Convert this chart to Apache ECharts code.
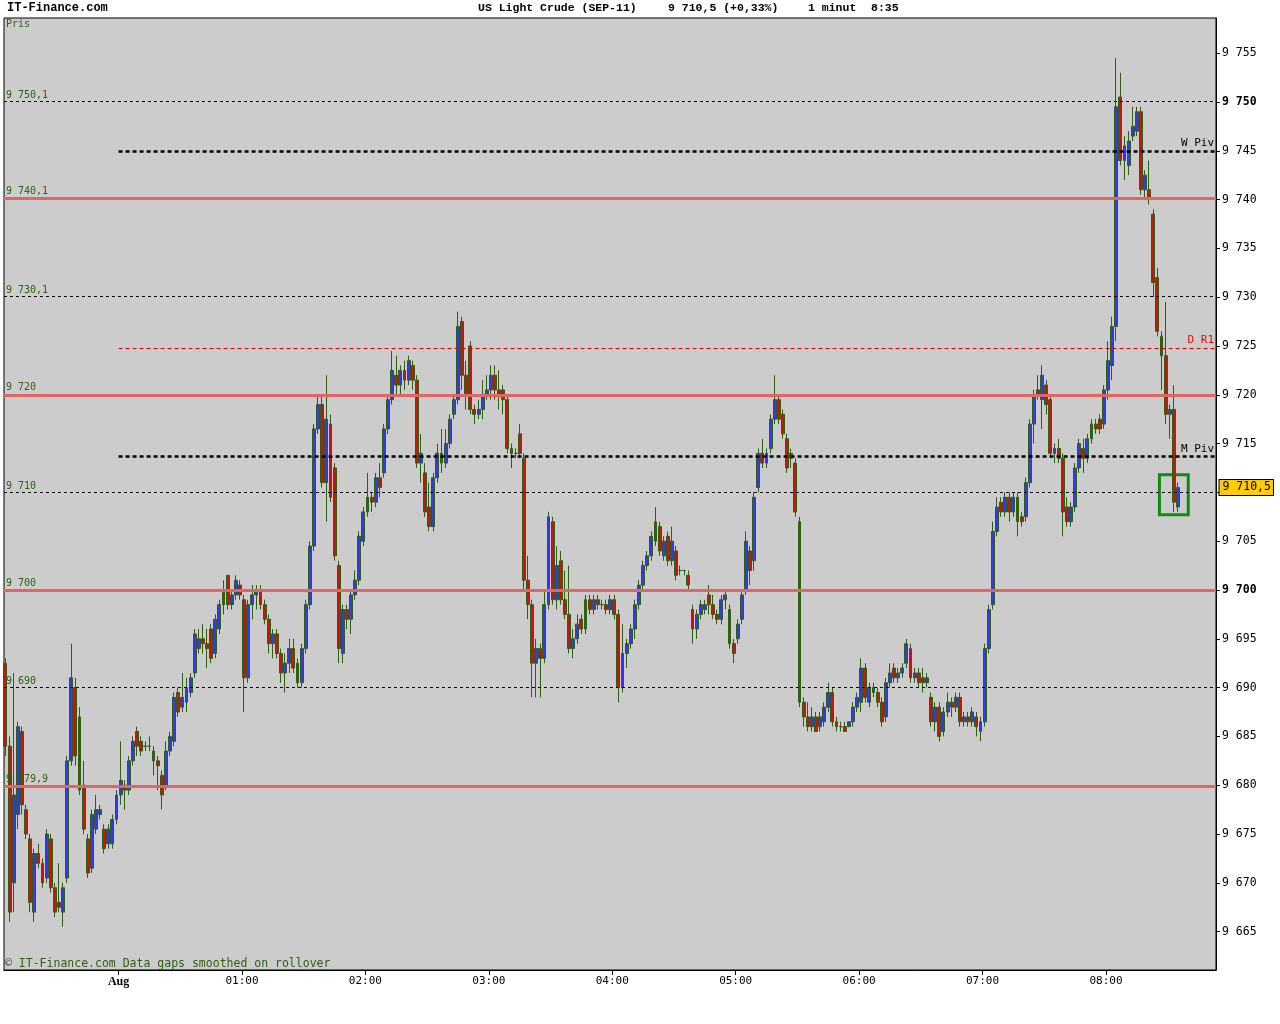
<!DOCTYPE html>
<html>
<head>
<meta charset="utf-8">
<title>US Light Crude (SEP-11)</title>
<script src="https://cdn.jsdelivr.net/npm/echarts@6/dist/echarts.min.js"></script>
<style>
  html, body { margin: 0; padding: 0; background: #ffffff; }
  #chart { width: 1280px; height: 1024px; }
</style>
</head>
<body>
<div id="chart"></div>
<script>
// bar times in minutes from 00:00 Aug (negative = previous evening), 2 minute steps
const firstBarMinute = -55;
const barStep = 2;

const opens = [
  9692.5, 9684, 9670, 9677, 9685.5, 9677.5, 9674.5, 9667, 9673, 9672,
  9670.5, 9674.5, 9669.5, 9668, 9667, 9670.5, 9682.5, 9690, 9687, 9680,
  9674.5, 9671.5, 9675.5, 9677, 9675.5, 9674, 9674, 9676.5, 9679, 9680,
  9679.5, 9682.5, 9685.5, 9684.5, 9684, 9684, 9683.5, 9682.5, 9681, 9680,
  9683.5, 9684.5, 9689.5, 9688, 9688.5, 9689.5, 9691.5, 9694, 9695, 9694.5,
  9696, 9693.5, 9696, 9698.5, 9701.5, 9698.5, 9699.5, 9700.5, 9699, 9691,
  9698.5, 9699.5, 9700, 9698.5, 9697, 9694.5, 9695.5, 9693.5, 9691.5, 9692.5,
  9694, 9692.5, 9690.5, 9694, 9698.5, 9704.5, 9716.5, 9719, 9711, 9717,
  9712.5, 9702.5, 9693.5, 9698, 9697, 9699.5, 9701, 9705, 9708, 9709.5,
  9709, 9711.5, 9712, 9716.5, 9719.5, 9722, 9721, 9722.5, 9721.5, 9723,
  9721.5, 9713, 9712, 9708.5, 9706.5, 9711.5, 9714, 9713, 9715, 9718,
  9719.5, 9727.5, 9722, 9725, 9718.5, 9718, 9718.5, 9720, 9720.5, 9722,
  9720.5, 9720.5, 9719.5, 9714.5, 9714, 9716, 9713.5, 9701, 9698.5, 9692.5,
  9694, 9693, 9698.5, 9707, 9699, 9703, 9699, 9697.5, 9694, 9695,
  9697, 9696, 9699, 9698, 9699, 9698.5, 9698.5, 9698, 9699, 9697.5,
  9690, 9693.5, 9694.5, 9696, 9698.5, 9700.5, 9702.5, 9703.5, 9705, 9706.5,
  9703.5, 9705.5, 9703, 9704, 9702, 9702, 9701.5, 9698, 9696, 9697.5,
  9698, 9699.5, 9698.5, 9697.5, 9697, 9699, 9698, 9694.5, 9695, 9697,
  9700, 9704, 9703, 9710.5, 9714, 9713, 9714.5, 9717.5, 9719.5, 9718,
  9715.5, 9714, 9713, 9707, 9688.5, 9687, 9686, 9687, 9686, 9686.5,
  9688, 9689.5, 9686.5, 9686, 9686, 9686, 9686.5, 9688, 9688.5, 9692,
  9688.5, 9690, 9689.5, 9688.5, 9687, 9690.5, 9692, 9691, 9691.5, 9692.5,
  9694, 9691, 9691.5, 9691, 9690.5, 9689, 9686.5, 9688, 9685.5, 9687.5,
  9688.5, 9688, 9689, 9686.5, 9687, 9686.5, 9687, 9685.5, 9686.5, 9694,
  9698.5, 9706, 9709, 9708, 9709.5, 9708, 9709.5, 9707.5, 9707.5, 9711,
  9717, 9720.5, 9719.5, 9721, 9719.5, 9714, 9714.5, 9713.5, 9708.5, 9707,
  9708.5, 9712.5, 9714.5, 9713.5, 9715.5, 9717, 9717.5, 9717, 9720.5, 9723,
  9727, 9750.5, 9744, 9743.5, 9746.5, 9747, 9749, 9741, 9741, 9738.5,
  9732, 9726, 9724, 9718, 9718.5, 9708.5
];
const closes = [
  9684, 9667, 9679, 9686, 9678, 9675, 9668, 9673, 9672, 9670,
  9675, 9669.5, 9667, 9667.5, 9669.5, 9682.5, 9691, 9683, 9679.5, 9675.5,
  9671, 9677, 9677.5, 9677.5, 9673.5, 9675.5, 9676.5, 9679, 9680.5, 9679.5,
  9682.5, 9684.5, 9684, 9683.5, 9684, 9684, 9682.5, 9682, 9679, 9683.5,
  9685, 9689, 9687.5, 9689, 9690, 9691, 9695.5, 9695, 9694.5, 9694,
  9693, 9697, 9698.5, 9700, 9698.5, 9699.5, 9701, 9699.5, 9691, 9698.5,
  9699.5, 9700, 9698.5, 9697, 9694.5, 9695.5, 9693.5, 9691.5, 9692.5, 9694,
  9692, 9690.5, 9694, 9698.5, 9704.5, 9716.5, 9719, 9711, 9717.5, 9709.5,
  9703.5, 9694, 9698, 9697, 9699.5, 9701, 9705.5, 9708, 9709.5, 9709,
  9711.5, 9710.5, 9716.5, 9719.5, 9722.5, 9721, 9722.5, 9721.5, 9723.5, 9721.5,
  9713, 9714, 9708, 9706.5, 9711.5, 9714, 9713, 9715, 9717.5, 9719.5,
  9727, 9722, 9720, 9718.5, 9718, 9718.5, 9720, 9720.5, 9722, 9720.5,
  9720, 9719.5, 9714.5, 9714, 9714, 9714, 9701, 9698.5, 9692.5, 9694,
  9693, 9698.5, 9707.5, 9699, 9702.5, 9699, 9697.5, 9694, 9695, 9696.5,
  9696, 9699, 9698, 9699, 9698.5, 9698.5, 9698, 9699, 9697.5, 9690,
  9693.5, 9694.5, 9696, 9698.5, 9700.5, 9702.5, 9703.5, 9705.5, 9707, 9704,
  9705, 9703, 9705, 9701.5, 9702, 9702, 9700.5, 9696, 9697.5, 9698.5,
  9698.5, 9698.5, 9697.5, 9697, 9699, 9699.5, 9694.5, 9693.5, 9696.5, 9699.5,
  9705, 9702, 9709.5, 9714, 9713, 9714, 9717.5, 9719.5, 9717.5, 9716,
  9712.5, 9713.5, 9708, 9688.5, 9687, 9686, 9687, 9685.5, 9687, 9688,
  9689.5, 9686.5, 9686, 9686, 9685.5, 9686.5, 9688, 9689, 9692, 9689,
  9690, 9689.5, 9688.5, 9686.5, 9690.5, 9691.5, 9691, 9691.5, 9692, 9694.5,
  9691, 9691.5, 9690.5, 9690.5, 9691, 9686.5, 9688, 9685, 9687.5, 9688.5,
  9688, 9689, 9686.5, 9687, 9686.5, 9687.5, 9686, 9686.5, 9694, 9698,
  9706, 9708.5, 9708, 9709.5, 9708, 9709.5, 9707, 9707, 9711, 9717,
  9720, 9720, 9722, 9719, 9714, 9714.5, 9713.5, 9708, 9707, 9708.5,
  9712.5, 9715, 9713.5, 9715.5, 9717, 9716.5, 9716.5, 9720.5, 9723.5, 9727,
  9749.5, 9744, 9745.5, 9746, 9747.5, 9749, 9741, 9742.5, 9740, 9731.5,
  9726.5, 9724, 9718, 9718.5, 9709, 9710.5
];
const lows = [
  9683, 9666, 9667, 9675.5, 9677, 9674.5, 9667, 9666, 9671.5, 9669.5,
  9670, 9669, 9666.5, 9667, 9665.5, 9670, 9682, 9682, 9679, 9675,
  9670.5, 9671, 9675, 9676.5, 9673, 9673.5, 9673.5, 9676, 9678, 9677.5,
  9679, 9682, 9683, 9683, 9683.5, 9683.5, 9681, 9679.5, 9677.5, 9679.5,
  9683, 9684, 9687, 9687.5, 9687.5, 9689, 9691, 9693.5, 9693.5, 9692,
  9692.5, 9693, 9695.5, 9697.5, 9698, 9698, 9699, 9699, 9687.5, 9690.5,
  9697, 9698, 9698, 9696.5, 9693.5, 9693, 9693, 9690.5, 9689.5, 9691.5,
  9691.5, 9690, 9690, 9693.5, 9698, 9704, 9716, 9710.5, 9707, 9709,
  9703, 9692.5, 9692.5, 9696, 9695.5, 9699, 9700.5, 9704.5, 9707.5, 9708,
  9708.5, 9709.5, 9711.5, 9716, 9719, 9720, 9720, 9720.5, 9721, 9720.5,
  9712.5, 9711, 9707.5, 9706, 9706, 9711, 9712, 9712.5, 9714.5, 9717.5,
  9719, 9720.5, 9718.5, 9718, 9717, 9717.5, 9717.5, 9719.5, 9719.5, 9719.5,
  9718.5, 9718, 9714, 9712.5, 9713.5, 9713.5, 9700, 9697, 9689, 9689,
  9689, 9692.5, 9698, 9698.5, 9698, 9698.5, 9697, 9693.5, 9693, 9694.5,
  9695.5, 9695.5, 9697.5, 9697.5, 9698, 9698, 9697.5, 9697.5, 9697, 9688.5,
  9689.5, 9692, 9694, 9695, 9698, 9700, 9702, 9703, 9704.5, 9703.5,
  9703, 9702.5, 9702.5, 9701, 9701.5, 9701.5, 9700, 9694.5, 9695, 9697,
  9697.5, 9697.5, 9697, 9696.5, 9696.5, 9698, 9694, 9692.5, 9694.5, 9696.5,
  9699.5, 9700.5, 9702, 9710, 9712.5, 9712.5, 9714, 9717, 9717, 9715.5,
  9712, 9712.5, 9707.5, 9688, 9686, 9685.5, 9685.5, 9685.5, 9685.5, 9686,
  9687.5, 9686, 9685.5, 9685.5, 9685.5, 9686, 9686, 9687.5, 9687.5, 9688.5,
  9688, 9689, 9688, 9686, 9686.5, 9690, 9690.5, 9690.5, 9691, 9692,
  9690.5, 9690.5, 9690, 9689.5, 9690, 9686, 9685.5, 9684.5, 9685, 9687,
  9687, 9687.5, 9686, 9686, 9686, 9686, 9685, 9684.5, 9686, 9693.5,
  9698, 9705.5, 9707.5, 9707.5, 9707, 9707.5, 9705.5, 9706.5, 9707, 9710.5,
  9715, 9719.5, 9716.5, 9718, 9713.5, 9713, 9713, 9705.5, 9706.5, 9706.5,
  9708, 9712, 9712, 9713, 9715, 9716, 9716, 9716.5, 9719.5, 9721.5,
  9725.5, 9743.5, 9742, 9742.5, 9746, 9746.5, 9740.5, 9740, 9739.5, 9730,
  9726, 9720.5, 9717, 9715.5, 9708, 9708
];
const highs = [
  9693, 9685, 9691.5, 9686.5, 9686, 9678, 9675, 9673.5, 9674, 9672.5,
  9675.5, 9675, 9670, 9672, 9670, 9683, 9694.5, 9691, 9688, 9682.5,
  9675, 9677.5, 9679, 9678, 9676, 9676, 9677, 9679.5, 9684.5, 9680.5,
  9683, 9685, 9686, 9685, 9684.5, 9685, 9684, 9683, 9681.5, 9684.5,
  9685.5, 9689.5, 9690, 9691.5, 9691, 9691.5, 9696, 9696, 9696.5, 9696,
  9696.5, 9697.5, 9699, 9701, 9701.5, 9700, 9701.5, 9701, 9699.5, 9699,
  9700.5, 9700.5, 9700.5, 9699, 9697.5, 9696, 9696, 9694, 9693.5, 9695,
  9695, 9693, 9694.5, 9699, 9705, 9717, 9720, 9720, 9722, 9718,
  9713, 9703, 9698.5, 9698.5, 9700, 9702, 9706, 9708.5, 9712, 9710,
  9712, 9713, 9717, 9720, 9724.5, 9724, 9723, 9723.5, 9724, 9723.5,
  9722, 9716, 9713, 9711, 9712, 9715, 9716.5, 9716.5, 9718, 9720,
  9728.5, 9728, 9723.5, 9725.5, 9719, 9719.5, 9721.5, 9722, 9723, 9723,
  9722.5, 9721, 9720, 9715, 9714.5, 9717, 9714, 9703.5, 9699, 9695,
  9694.5, 9700, 9708, 9707.5, 9704.5, 9704, 9702, 9702.5, 9696, 9697.5,
  9697.5, 9699.5, 9699.5, 9699.5, 9699.5, 9699, 9699, 9699.5, 9699.5, 9698,
  9696.5, 9695, 9696.5, 9699, 9701, 9703, 9704, 9706, 9708.5, 9707,
  9705.5, 9706, 9706.5, 9704.5, 9702.5, 9702, 9702, 9698.5, 9698, 9699,
  9699, 9700.5, 9699.5, 9698, 9699.5, 9700, 9698.5, 9695, 9697, 9700,
  9706, 9704.5, 9710, 9714.5, 9715.5, 9714.5, 9718, 9722, 9720, 9718.5,
  9716, 9714.5, 9713.5, 9707.5, 9689, 9688.5, 9688, 9687.5, 9687.5, 9688.5,
  9690.5, 9690, 9687, 9686.5, 9686.5, 9686.5, 9688.5, 9689.5, 9693, 9692.5,
  9690.5, 9690.5, 9690, 9689, 9691, 9692.5, 9692.5, 9692, 9692.5, 9695,
  9694.5, 9692, 9692, 9692, 9691.5, 9689.5, 9688.5, 9688.5, 9688, 9689.5,
  9689, 9689.5, 9689.5, 9687.5, 9687.5, 9688, 9687.5, 9687, 9694.5, 9698.5,
  9707, 9709.5, 9709.5, 9710, 9710, 9710, 9710, 9708, 9711.5, 9717.5,
  9720.5, 9722, 9723, 9721.5, 9720, 9715, 9715.5, 9714, 9709.5, 9709,
  9713, 9715.5, 9715.5, 9716, 9717.5, 9717.5, 9718, 9721, 9725.5, 9728,
  9754.5, 9753, 9746.5, 9747, 9749.5, 9749.5, 9749.5, 9743, 9744, 9739,
  9733, 9726.5, 9729.5, 9719, 9721, 9711
];

const hourTicks = [0, 60, 120, 180, 240, 300, 360, 420, 480];
const hourLabels = ['Aug', '01:00', '02:00', '03:00', '04:00', '05:00', '06:00', '07:00', '08:00'];
const priceTicks = [9665, 9670, 9675, 9680, 9685, 9690, 9695, 9700, 9705, 9710,
  9715, 9720, 9725, 9730, 9735, 9740, 9745, 9750, 9755];
const boldPriceTicks = [9700, 9750];

// support / resistance levels
const thinLevels = [9750.1, 9730.1, 9710, 9690];
const thinLabels = ['9 750,1', '9 730,1', '9 710', '9 690'];
const redLevels = [9740.1, 9720, 9700, 9679.9];
const redLabels = ['9 740,1', '9 720', '9 700', '9 679,9'];
const pivotNames = ['W Piv', 'M Piv', 'D R1'];
const pivotValues = [9745, 9713.7, 9724.8];

const lastPrice = 9710.5;
const lastPriceText = '9 710,5';
const boxMinutes = [506, 520];
const boxPrices = [9711.8, 9707.7];

const xMin = -55.7, xMax = 533.5;
const yMin = 9661.07, yMax = 9758.6;

const mono = "'DejaVu Sans Mono', monospace";
const green = '#2e5f12';

const candles = opens.map(function (o, i) {
  return [firstBarMinute + i * barStep, o, closes[i], lows[i], highs[i]];
});

const lines = [];
thinLevels.forEach(function (v, i) {
  lines.push({
    yAxis: v,
    lineStyle: { color: '#000', width: 1, type: [3, 3] },
    label: { formatter: thinLabels[i], position: 'insideStartTop', color: green,
      fontFamily: mono, fontSize: 10, distance: [2, 1] }
  });
});
redLevels.forEach(function (v, i) {
  lines.push({
    yAxis: v,
    lineStyle: { color: '#e06666', width: 3, type: 'solid' },
    label: { formatter: redLabels[i], position: 'insideStartTop', color: green,
      fontFamily: mono, fontSize: 10, distance: [2, 2] }
  });
});
pivotValues.forEach(function (v, i) {
  const isRed = pivotNames[i] === 'D R1';
  lines.push([{
    coord: [0, v],
    lineStyle: isRed ? { color: '#e00000', width: 1, type: [4, 3] }
                     : { color: '#000', width: 2.5, type: [4, 3] },
    label: { formatter: pivotNames[i], position: 'insideEndTop', color: isRed ? '#ff0000' : '#000',
      fontFamily: mono, fontSize: 11, distance: [2, 2] }
  }, { coord: [xMax, v] }]);
});

const chart = echarts.init(document.getElementById('chart'));

chart.setOption({
  animation: false,
  backgroundColor: '#ffffff',
  grid: {
    left: 4, right: 64, top: 18, bottom: 54,
    show: true, backgroundColor: '#cccccc', borderColor: '#000', borderWidth: 1
  },
  xAxis: {
    type: 'value',
    min: xMin,
    max: xMax,
    axisLine: { show: true, onZero: false, lineStyle: { color: '#000', width: 1 } },
    axisTick: { show: true, customValues: hourTicks, length: 5, lineStyle: { color: '#000' } },
    axisLabel: {
      customValues: hourTicks,
      margin: 6,
      color: '#000',
      fontFamily: mono,
      fontSize: 11,
      formatter: function (v) {
        const i = hourTicks.indexOf(v);
        return i === 0 ? '{a|' + hourLabels[i] + '}' : hourLabels[i];
      },
      rich: { a: { fontFamily: "'Liberation Serif', serif", fontWeight: 'bold', fontSize: 12, color: '#000' } }
    },
    splitLine: { show: false }
  },
  yAxis: {
    type: 'value',
    position: 'right',
    min: yMin,
    max: yMax,
    axisLine: { show: true, onZero: false, lineStyle: { color: '#000', width: 1 } },
    axisTick: { show: true, customValues: priceTicks, length: 4, lineStyle: { color: '#000' } },
    axisLabel: {
      customValues: priceTicks,
      margin: 6,
      color: '#000',
      fontFamily: mono,
      fontSize: 11.5,
      formatter: function (v) {
        const t = '9 ' + (v - 9000);
        return boldPriceTicks.indexOf(v) >= 0 ? '{b|' + t + '}' : t;
      },
      rich: { b: { fontFamily: mono, fontWeight: 'bold', fontSize: 11.5, color: '#000' } }
    },
    splitLine: { show: false }
  },
  series: [{
    type: 'candlestick',
    data: candles,
    encode: { x: 0, y: [1, 2, 3, 4] },
    barWidth: 3.4,
    itemStyle: {
      color: '#3535f5',
      color0: '#cc1111',
      borderColor: green,
      borderColor0: green,
      borderColorDoji: green,
      borderWidth: 1
    },
    markLine: {
      silent: true,
      symbol: ['none', 'none'],
      data: lines
    },
    markArea: {
      silent: true,
      itemStyle: { color: 'rgba(0,0,0,0)', borderColor: '#118a11', borderWidth: 3 },
      data: [[{ coord: [boxMinutes[0], boxPrices[0]] }, { coord: [boxMinutes[1], boxPrices[1]] }]]
    },
    markPoint: {
      silent: true,
      symbol: 'rect',
      symbolSize: 1,
      itemStyle: { color: 'rgba(0,0,0,0)' },
      label: {
        show: true,
        position: 'right',
        distance: 3,
        formatter: lastPriceText,
        color: '#000',
        fontFamily: mono,
        fontSize: 11.5,
        backgroundColor: '#ffcc00',
        borderColor: '#000',
        borderWidth: 1,
        padding: [2, 2, 1, 3]
      },
      data: [{ coord: [xMax, lastPrice] }]
    }
  }],
  graphic: [
    { type: 'text', left: 7, top: 2, style: { text: 'IT-Finance.com', font: "bold 12px 'Liberation Mono', monospace", fill: '#000' } },
    { type: 'text', left: 478, top: 2, style: { text: 'US Light Crude (SEP-11)', font: "bold 11.5px 'Liberation Mono', monospace", fill: '#000' } },
    { type: 'text', left: 668, top: 2, style: { text: '9 710,5 (+0,33%)', font: "bold 11.5px 'Liberation Mono', monospace", fill: '#000' } },
    { type: 'text', left: 808, top: 2, style: { text: '1 minut', font: "bold 11.5px 'Liberation Mono', monospace", fill: '#000' } },
    { type: 'text', left: 871, top: 2, style: { text: '8:35', font: "bold 11.5px 'Liberation Mono', monospace", fill: '#000' } },
    { type: 'text', left: 6, top: 19, style: { text: 'Pris', font: "10px 'DejaVu Sans Mono', monospace", fill: green } },
    { type: 'text', left: 5, top: 958, style: { text: '\u00a9 IT-Finance.com Data gaps smoothed on rollover', font: "11.5px 'DejaVu Sans Mono', monospace", fill: green } }
  ]
});
</script>
</body>
</html>
